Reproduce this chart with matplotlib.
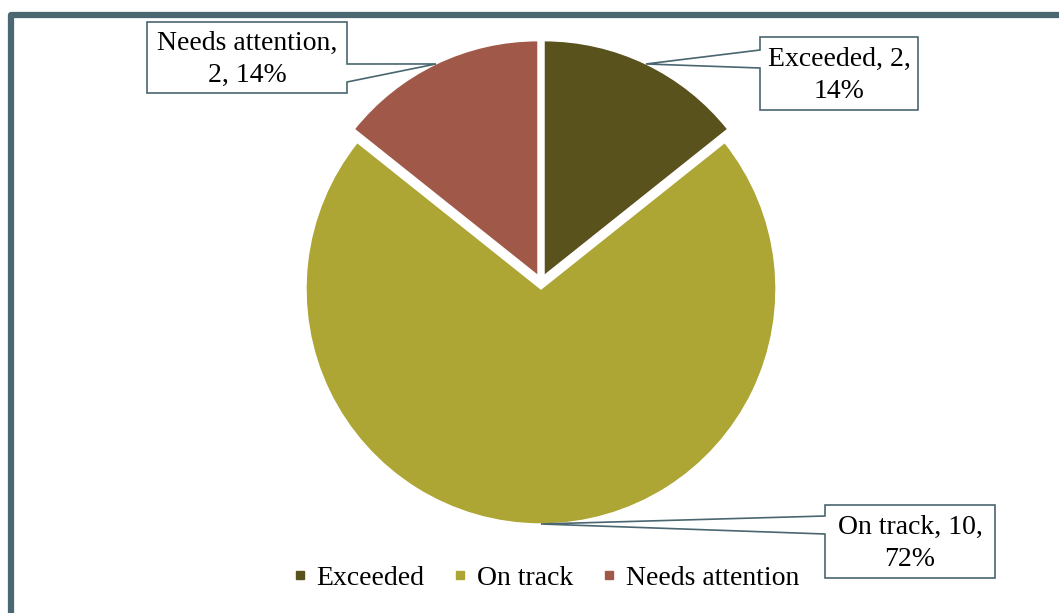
import numpy as np
import matplotlib
matplotlib.use("Agg")
import matplotlib.pyplot as plt
from matplotlib.patches import Polygon, Rectangle

# Data
categories = ["Exceeded", "On track", "Needs attention"]
counts = [2, 10, 2]
percent_labels = ["14%", "72%", "14%"]
colors = ["#5a521d", "#ada534", "#a05949"]

W, H = 1059, 613
FONT = ["Liberation Serif", "DejaVu Serif"]
EDGE = "#4a6670"
FS = 20

fig = plt.figure(figsize=(W / 100, H / 100), dpi=100)
ax = fig.add_axes([0, 0, 1, 1])


def py(y):
    """Convert a top-down pixel row into the axes' y coordinate."""
    return H - y


# Outer frame (top and left edges visible, rest runs off the canvas)
ax.add_patch(Rectangle((11, py(15) - 700), 1200, 700, fill=False,
                       edgecolor="#4b6771", linewidth=4.5, joinstyle="round",
                       zorder=0))

# Pie (explode distance is in data units, i.e. pixels here)
cx, cy, radius = 541, py(282), 235
wedges, _ = ax.pie(counts, colors=colors, startangle=90, counterclock=False,
                   explode=[7] * len(counts), radius=radius,
                   center=(cx, cy), frame=True,
                   wedgeprops=dict(edgecolor="white", linewidth=1.0))
ax.set_xlim(0, W)
ax.set_ylim(0, H)
ax.set_aspect("equal")
ax.axis("off")

# Callout boxes: (left, top, right, bottom) in pixel rows, pointer side and span
boxes = [
    dict(rect=(760, 37, 918, 110), side="left", span=(50, 68)),
    dict(rect=(825, 505, 995, 578), side="left", span=(516, 534)),
    dict(rect=(147, 22, 347, 93), side="right", span=(64, 82)),
]
break_after = [1, 1, 0]

for w, cat, n, pct, box, brk in zip(wedges, categories, counts,
                                    percent_labels, boxes, break_after):
    mid = np.deg2rad((w.theta1 + w.theta2) / 2)
    wx, wy = w.center
    tip = (wx + w.r * np.cos(mid), wy + w.r * np.sin(mid))

    l, t, r, b = box["rect"]
    s0, s1 = box["span"]
    if box["side"] == "left":
        pts = [(l, py(t)), (r, py(t)), (r, py(b)), (l, py(b)),
               (l, py(s1)), tip, (l, py(s0))]
    else:
        pts = [(l, py(t)), (r, py(t)), (r, py(s0)), tip,
               (r, py(s1)), (r, py(b)), (l, py(b))]
    ax.add_patch(Polygon(pts, closed=True, facecolor="white",
                         edgecolor=EDGE, linewidth=1.2, zorder=5))

    parts = [f"{cat},", f"{n},", pct]
    text = " ".join(parts[:brk + 1]) + "\n" + " ".join(parts[brk + 1:])
    ax.text((l + r) / 2, py((t + b) / 2) - 2, text, ha="center", va="center",
            fontsize=FS, family=FONT, linespacing=1.4, zorder=6)

# Legend
handles = [plt.Line2D([], [], marker="s", linestyle="none", markersize=6,
                      markerfacecolor=c, markeredgecolor=c) for c in colors]
leg = ax.legend(handles, categories, loc="center",
                bbox_to_anchor=(546 / W, 1 - 578 / H), ncol=3, frameon=False,
                prop=dict(family=FONT, size=FS), handlelength=0.5,
                handletextpad=0.35, columnspacing=1.05, borderpad=0)

fig.savefig("out.png", dpi=100, facecolor="white")
